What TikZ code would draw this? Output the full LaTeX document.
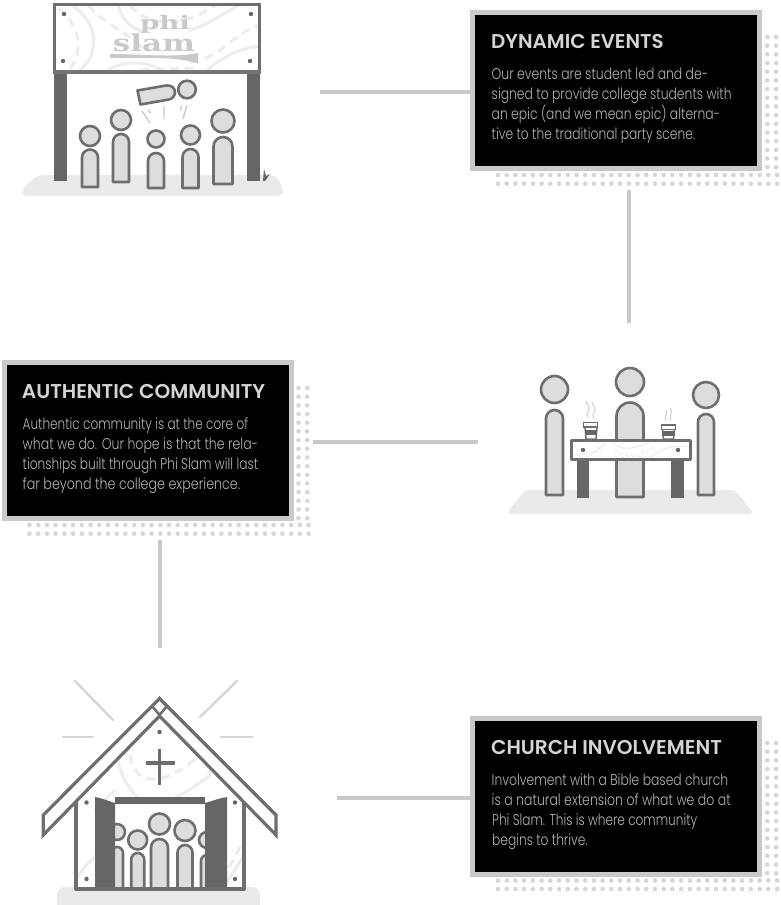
\documentclass[tikz,border=0pt]{standalone}
\usepackage{fontspec}
\usepackage{graphicx}
\newfontfamily\bodyf{Poppins Light}
\newfontfamily\headf{Poppins SemiBold}
\newfontfamily\logof{DejaVu Serif}
\definecolor{inkgray}{HTML}{6E6E6E}
\definecolor{postgray}{HTML}{666666}
\definecolor{bodygray}{HTML}{DDDDDD}
\definecolor{groundgray}{HTML}{EAEAEA}
\definecolor{framegray}{HTML}{C9C9C9}
\definecolor{graingray}{HTML}{EDEDED}
\definecolor{raygray}{HTML}{D6D6D2}
\definecolor{dotgray}{HTML}{D6D6D6}
\definecolor{headtext}{HTML}{D4D4D4}
\definecolor{bodytext}{HTML}{B4B4B4}
\tikzset{
  ink/.style={draw=inkgray,line width=2.6pt,line join=round},
  figure/.style={ink,fill=bodygray},
  ground/.style={fill=groundgray,rounded corners=5pt},
  post/.style={fill=postgray},
  grain/.style={draw=graingray,line width=3pt},
  graind/.style={grain,dash pattern=on 9pt off 6pt},
  thingrain/.style={draw=graingray,line width=1.2pt},
  thingraind/.style={thingrain,dash pattern=on 3pt off 2.5pt},
  screw/.style={fill=postgray},
  ray/.style={draw=raygray,line width=2.4pt,line cap=round},
  tick/.style={draw=framegray,line width=1.3pt},
  steam/.style={draw=framegray!80,line width=1.2pt},
  frameBox/.style={draw=framegray,fill=black,line width=5pt,inner sep=0pt,outer sep=0pt,anchor=north west},
  link/.style={draw=framegray,line width=4.4pt},
  titleline/.style={anchor=base west,inner sep=0pt,text=headtext,font=\headf\fontsize{20}{20}\selectfont},
  textline/.style={anchor=base west,inner sep=0pt,text=bodytext,font=\bodyf\fontsize{15.6}{15.6}\selectfont},
}
\newcommand{\fitline}[2]{\resizebox{#1pt}{\height}{#2}}
% cx, head y, head r, half width, body top, body bottom
\newcommand{\person}[6]{%
  \pgfmathsetmacro{\pl}{#1-#4}\pgfmathsetmacro{\pr}{#1+#4}%
  \pgfmathsetmacro{\pk}{#4*0.5523}\pgfmathsetmacro{\pm}{#5+#4}%
  \pgfmathsetmacro{\pc}{#5+#4-\pk}%
  \pgfmathsetmacro{\pa}{#1-\pk}\pgfmathsetmacro{\pb}{#1+\pk}%
  \filldraw[figure] (#1,#2) circle (#3);
  \filldraw[figure] (\pl,#6) -- (\pl,\pm) .. controls (\pl,\pc) and (\pa,#5) .. (#1,#5) .. controls (\pb,#5) and (\pr,\pc) .. (\pr,\pm) -- (\pr,#6) -- cycle;
}
\newcommand{\screwat}[2]{\fill[screw] (#1,#2) circle (2.2);}
\newcommand{\dotcol}[3]{\foreach \dy in {0,...,#3}{\fill[dotgray] (#1,{#2+8.68*\dy}) circle (2.3);}}
\newcommand{\dotrow}[3]{\foreach \dx in {0,...,#3}{\fill[dotgray] ({#1+8.72*\dx},#2) circle (2.3);}}
\begin{document}
\begin{tikzpicture}[x=1pt,y=-1pt]
\useasboundingbox (0,0) rectangle (780,905);
\fill[white] (0,0) rectangle (780,905);

% ---------- scene 1
\path[ground,fill=groundgray] (38,175) -- (276,175) -- (284,190) -- (281,196) -- (23,196) -- (21,190) -- cycle;
\fill[post] (53.5,72) rectangle (66.5,181);
\fill[post] (247,72) rectangle (260,181);
\fill[postgray] (264,169) -- (266,176) -- (270,174) -- (265,181) -- (263,181) -- cycle;
\filldraw[draw=none,fill=white] (53,3) rectangle (261,72);
\begin{scope}
\clip (53,3) rectangle (261,72);
\draw[graind] (58,8) .. controls (80,25) and (85,50) .. (68,72);
\draw[grain] (72,5) .. controls (100,25) and (100,55) .. (78,72);
\draw[graind] (88,5) .. controls (105,25) and (125,30) .. (142,48);
\draw[grain] (118,5) .. controls (122,20) and (130,28) .. (145,32);
\draw[graind] (130,5) .. controls (145,25) and (180,30) .. (216,5);
\draw[grain] (190,30) .. controls (210,25) and (235,5) .. (245,3);
\draw[graind] (190,62) .. controls (220,60) and (235,30) .. (262,25);
\draw[grain] (205,72) .. controls (225,55) and (240,48) .. (262,46);
\draw[grain] (105,72) .. controls (125,58) and (150,62) .. (165,72);
\draw[graind] (140,70) -- (195,68);
\end{scope}
\draw[draw=inkgray,line width=3pt] (54.5,4.5) rectangle (259.5,71.5);
\fill[postgray!90] (53,70) rectangle (261,74);
\screwat{64}{14}\screwat{251}{14}\screwat{63}{61}\screwat{250}{61}
\node[inner sep=0pt,text=framegray] (logophi) at (165,24) {\logof\bfseries\fontsize{24}{24}\selectfont\resizebox*{50pt}{18pt}{phi}};
\node[inner sep=0pt,text=framegray] (logoslam) at (154,43) {\logof\bfseries\fontsize{24}{24}\selectfont\resizebox*{82pt}{18pt}{slam}};
\fill[framegray] (110,54) .. controls (140,54) and (175,58) .. (198,53) -- (198,63.5) .. controls (175,56) and (140,58) .. (110,58) -- cycle;
\person{90}{136}{10}{8}{149.5}{187}
\person{121}{120}{10}{8}{134}{182}
\person{156}{139}{8.5}{8}{153}{188}
\person{190.5}{135}{9.5}{8}{149}{188}
\person{223}{121}{11.5}{9.5}{137}{184}
\filldraw[figure] (137.5,90.5) -- (166,85.5) .. controls (172,84.5) and (175,89) .. (175,92) .. controls (175,96) and (172,99) .. (169,99.5) -- (140.5,104.5) -- cycle;
\filldraw[figure] (187,89.5) circle (8.8);
\draw[tick] (142,111) -- (150,123) (148,109) -- (150,113) (164,106) -- (164,119) (187,105) -- (183,119) (181.5,106) -- (180.5,110);

% ---------- scene 2
\path[ground] (525,490) -- (735,490) -- (754,514) -- (506,514) -- cycle;
\person{554.5}{389.5}{13.5}{8.5}{410}{495}
\person{630}{382}{14}{13.5}{402.5}{497}
\person{706}{395}{13}{8}{414}{495}
\fill[post] (577,459) rectangle (589,497.5);
\fill[post] (671,459) rectangle (684,497.5);
\fill[white] (571.5,440.5) rectangle (690.5,459.5);
\begin{scope}
\clip (571.5,440.5) rectangle (690.5,459.5);
\draw[thingrain] (574,456) .. controls (585,452) and (600,455) .. (605,442);
\draw[thingraind] (585,458) .. controls (595,452) and (602,450) .. (598,442);
\draw[thingrain] (612,442) .. controls (625,455) and (640,445) .. (650,442);
\draw[thingraind] (615,451) .. controls (630,460) and (645,455) .. (655,446);
\draw[thingrain] (650,458) .. controls (662,448) and (672,445) .. (690,447);
\draw[thingraind] (610,458) -- (650,456);
\end{scope}
\draw[ink] (571.5,440.5) rectangle (690.5,459.5);
\screwat{583}{450}\screwat{678}{450}
% cups
\filldraw[draw=inkgray,line width=1.5pt,fill=white] (585,427) -- (586,439) -- (596,439) -- (597,427) -- cycle;
\fill[postgray] (584.8,429.5) rectangle (597.2,435);
\filldraw[draw=inkgray,line width=1.5pt,fill=white] (583.5,422.5) rectangle (597.5,427);
\filldraw[draw=inkgray,line width=1.5pt,fill=white] (662.5,429) -- (663.5,439) -- (673.5,439) -- (674.5,429) -- cycle;
\fill[postgray] (662.3,431) rectangle (674.7,436);
\filldraw[draw=inkgray,line width=1.5pt,fill=white] (661.5,425) rectangle (675.5,429.5);
\draw[steam] (588,418) .. controls (584,413) and (592,410) .. (588,405) .. controls (586,403) and (586,402) .. (587,401);
\draw[steam] (594,419) .. controls (590,414) and (598,411) .. (594,406) .. controls (592,404) and (592,403) .. (593,402);
\draw[steam] (666,421) .. controls (663,417) and (669,414) .. (666,410);
\draw[steam] (671,421) .. controls (668,417) and (674,412) .. (670,408);

% ---------- scene 3
\path[ground,rounded corners=8pt] (57,887) rectangle (260,920);
\draw[ray] (75,681) -- (113,720);
\draw[ray] (237,681) -- (200,717);
\draw[ray] (63,737) -- (93,737);
\draw[ray] (221,737) -- (252,737);
\begin{scope}
\clip (76,810) -- (159.5,716) -- (244,810) -- (244,889) -- (76,889) -- cycle;
\draw[grain] (118,760) .. controls (122,785) and (140,800) .. (150,810);
\draw[graind] (130,755) .. controls (135,785) and (160,790) .. (200,755);
\draw[grain] (150,810) .. controls (170,800) and (195,790) .. (215,770);
\draw[grain] (76,880) .. controls (85,865) and (95,855) .. (105,850);
\draw[graind] (205,885) .. controls (225,880) and (235,860) .. (245,835);
\draw[grain] (225,885) .. controls (235,870) and (240,860) .. (245,855);
\draw[grain] (95,810) .. controls (105,800) and (110,795) .. (115,790);
\end{scope}
% walls
\draw[ink,line width=3.2pt] (76,800) -- (76,889) -- (244,889) -- (244,800);
% roof
\filldraw[ink,line width=3.2pt,fill=white,line join=miter] (43.3,815) -- (159.5,698.5) -- (276,815) -- (276,835) -- (159.5,716) -- (43.3,835) -- cycle;
\draw[draw=inkgray,line width=2.6pt] (152,706) -- (159.5,715) -- (167,706);
\screwat{159.5}{732}\screwat{86.5}{802.5}\screwat{235}{802.5}\screwat{86.5}{879}\screwat{235}{879}
% cross
\draw[draw=inkgray,line width=3.6pt] (159.5,749) -- (159.5,785);
\draw[draw=inkgray,line width=3.6pt] (146,763) -- (175,763);
% doorway
\fill[white] (115,803) rectangle (205,888);
\begin{scope}
\clip (115,803) rectangle (205,888);
\person{117}{832}{8}{6}{847}{895}
\person{137.7}{840}{9.5}{6.5}{853}{895}
\person{159.5}{824}{10.5}{8.5}{839}{895}
\person{185}{830.5}{10.5}{7.5}{845}{895}
\person{207}{840}{8}{6}{855}{895}
\end{scope}
\fill[post] (115,797) rectangle (205,804);
\fill[post] (95,797) .. controls (102,798) and (108,801) .. (115,803) -- (115,889) -- (95,889) -- cycle;
\fill[post] (227,797) .. controls (220,798) and (212,801) .. (205,803) -- (205,889) -- (227,889) -- cycle;
\draw[draw=inkgray,line width=3.2pt] (95,889) -- (227,889);

% ---------- dots
\dotcol{767.3}{37}{15}\dotcol{776}{37}{15}
\dotrow{498}{175}{32}\dotrow{498}{183.7}{32}
\dotcol{298.5}{388}{15}\dotcol{307.2}{388}{15}
\dotrow{29.5}{525}{32}\dotrow{29.5}{533.7}{32}
\dotcol{767.3}{743}{15}\dotcol{776}{743}{15}
\dotrow{498}{880.5}{32}\dotrow{498}{889}{32}

% ---------- boxes
\node[frameBox,minimum width=287pt,minimum height=156pt] (boxevents) at (472.5,12.5) {};
\node[frameBox,minimum width=287pt,minimum height=156pt] (boxcommunity) at (4.5,362.5) {};
\node[frameBox,minimum width=287pt,minimum height=156pt] (boxchurch) at (472.5,718.5) {};

\node[titleline] (t1) at (491,48.5) {\fitline{172.5}{DYNAMIC EVENTS}};
\node[textline] (t1a) at (491.5,79.5) {\fitline{216.5}{Our events are student led and de-}};
\node[textline] (t1b) at (491.5,99.5) {\fitline{240}{signed to provide college students with}};
\node[textline] (t1c) at (491.5,119.5) {\fitline{228.5}{an epic (and we mean epic) alterna-}};
\node[textline] (t1d) at (491.5,139.5) {\fitline{203.5}{tive to the traditional party scene.}};

\node[titleline] (t2) at (21.7,398) {\fitline{243.3}{AUTHENTIC COMMUNITY}};
\node[textline] (t2a) at (22.5,429.5) {\fitline{225.5}{Authentic community is at the core of}};
\node[textline] (t2b) at (22.5,449.5) {\fitline{235.5}{what we do. Our hope is that the rela-}};
\node[textline] (t2c) at (22.5,469.5) {\fitline{235.5}{tionships built through Phi Slam will last}};
\node[textline] (t2d) at (22.5,489.5) {\fitline{217.5}{far beyond the college experience.}};

\node[titleline] (t3) at (491,754) {\fitline{230.7}{CHURCH INVOLVEMENT}};
\node[textline] (t3a) at (491.5,785.5) {\fitline{236.5}{Involvement with a Bible based church}};
\node[textline] (t3b) at (491.5,805.5) {\fitline{239}{is a natural extension of what we do at}};
\node[textline] (t3c) at (492,825.5) {\fitline{205}{Phi Slam. This is where community}};
\node[textline] (t3d) at (492,845.5) {\fitline{95.5}{begins to thrive.}};

% ---------- connectors
\coordinate (freeA) at (320,92);
\coordinate (freeB1) at (629,190);
\coordinate (freeB2) at (629,323);
\coordinate (freeC1) at (313,442);
\coordinate (freeC2) at (478,442);
\coordinate (freeD1) at (160,540);
\coordinate (freeD2) at (160,648);
\coordinate (freeE) at (337,798);
\draw[link] (freeA) -- (boxevents.west |- freeA);
\draw[link] (freeB1) -- (freeB2);
\draw[link] (freeC1) -- (freeC2);
\draw[link] (freeD1) -- (freeD2);
\draw[link] (freeE) -- (boxchurch.west |- freeE);
\end{tikzpicture}
\end{document}
